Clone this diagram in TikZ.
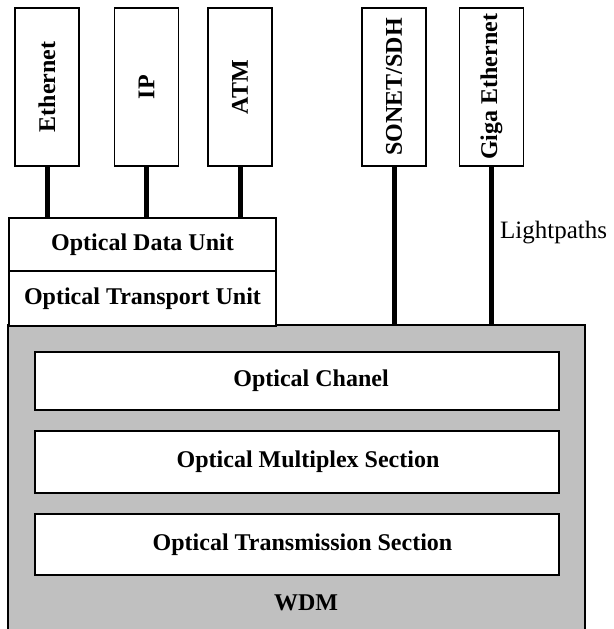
\documentclass[tikz,border=0pt]{standalone}
\usepackage{fontspec}
\setmainfont{Liberation Serif}
\definecolor{wdmgray}{RGB}{192,192,192}
\begin{document}
\begin{tikzpicture}[x=1pt,y=-1pt,
  lblfont/.style={font=\fontsize{24}{26}\selectfont\bfseries},
  box/.style={draw=black,line width=1.3pt,fill=white,inner sep=0pt,lblfont},
  vbox/.style={box,minimum width=64pt,minimum height=158pt},
  conn/.style={line width=5pt}]
\useasboundingbox (0,0) rectangle (613,629);
% WDM gray area
\node[draw=black,line width=1.3pt,fill=wdmgray,minimum width=577pt,minimum height=310pt,inner sep=0pt] (wdm) at (296.5,480) {};
\node[lblfont] (wdmt) at (306,603) {WDM};
% top boxes
\node[vbox] (eth) at (47,87) {\rotatebox{90}{Ethernet}};
\node[vbox] (ip) at (146.5,87) {\rotatebox{90}{IP}};
\node[vbox] (atm) at (240,87) {\rotatebox{90}{ATM}};
\node[vbox] (son) at (394,87) {\rotatebox{90}{SONET/SDH}};
\node[vbox] (giga) at (491.5,87) {\rotatebox{90}{Giga Ethernet}};
% ODU / OTU
\node[box,minimum width=267pt,minimum height=53pt] (odu) at (142.5,244.5) {Optical Data Unit};
\node[box,minimum width=267pt,minimum height=55pt] (otu) at (142.5,298.5) {Optical Transport Unit};
% inner layers
\node[box,minimum width=524pt,minimum height=58pt] (och) at (297,381) {};
\node[box,minimum width=524pt,minimum height=62pt] (oms) at (297,462) {};
\node[box,minimum width=524pt,minimum height=61pt] (ots) at (297,544.5) {};
\node[lblfont] (ocht) at ([xshift=14pt]och.center) {Optical Chanel};
\node[lblfont] (omst) at ([xshift=11pt]oms.center) {Optical Multiplex Section};
\node[lblfont] (otst) at ([xshift=5.5pt]ots.center) {Optical Transmission Section};
% connectors
\draw[conn] (eth.south) -- (eth.south |- odu.north);
\draw[conn] (ip.south) -- (ip.south |- odu.north);
\draw[conn] (atm.south) -- (atm.south |- odu.north);
\draw[conn] (son.south) -- (son.south |- wdm.north);
\draw[conn] (giga.south) -- (giga.south |- wdm.north);
\node[anchor=west,inner sep=0pt,font=\fontsize{25}{27}\selectfont] (lp) at (500,233) {Lightpaths};
\end{tikzpicture}
\end{document}
